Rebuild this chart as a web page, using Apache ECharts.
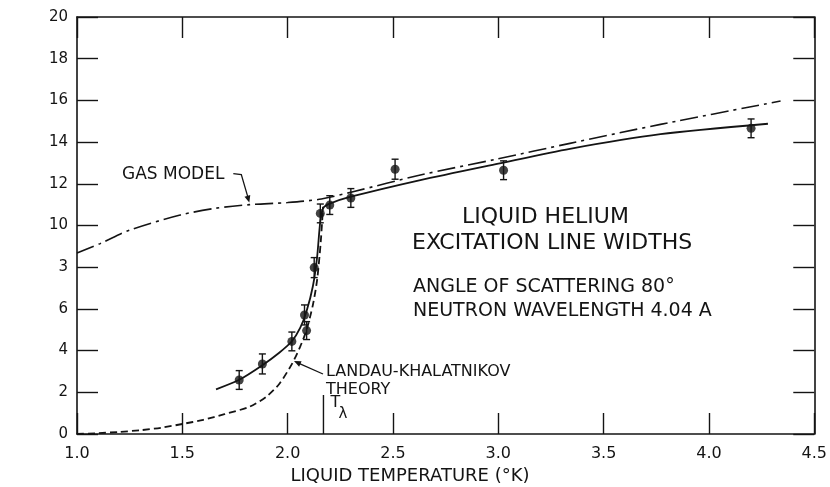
<!DOCTYPE html>
<html><head><meta charset="utf-8">
<script src="https://cdn.jsdelivr.net/npm/echarts@6/dist/echarts.min.js"></script>
<style>html,body{margin:0;padding:0;background:#fff}#c{width:830px;height:487px}</style>
</head><body><div id="c"></div>
<script>
// ---- data ----
const xTickLabels = ['1.0','1.5','2.0','2.5','3.0','3.5','4.0','4.5'];
const yTickLabels = ['0','2','4','6','3','10','12','14','16','18','20'];

// measured points (temperature, line width, error half-height)
const ptTemp  = [1.77, 1.88, 2.02, 2.08, 2.09, 2.126, 2.155, 2.20, 2.30, 2.51, 3.025, 4.20];
const ptWidth = [2.59, 3.36, 4.44, 5.71, 4.96, 7.98, 10.58, 10.98, 11.32, 12.70, 12.65, 14.66];
const ptErr   = [0.45, 0.48, 0.45, 0.48, 0.43, 0.48, 0.45, 0.45, 0.45, 0.48, 0.45, 0.45];

// gas model (dash-dot)
const gasTemp  = [1.0, 1.11, 1.25, 1.49, 1.66, 1.82, 2.0, 2.16, 2.31, 2.63, 3.0, 3.34, 3.77, 4.34];
const gasWidth = [8.68, 9.13, 9.78, 10.5, 10.83, 11.0, 11.1, 11.27, 11.62, 12.42, 13.2, 13.94, 14.85, 15.97];

// fitted curve through data (solid)
const fitTemp  = [1.66, 1.77, 1.88, 1.96, 2.02, 2.06, 2.09, 2.12, 2.14, 2.155, 2.17, 2.2, 2.3, 2.63, 3.0, 3.34, 3.77, 4.28];
const fitWidth = [2.14, 2.6, 3.3, 3.9, 4.45, 5.1, 5.9, 7.1, 8.5, 10.2, 10.85, 11.05, 11.38, 12.18, 12.97, 13.68, 14.38, 14.88];

// Landau-Khalatnikov theory (dashed)
const ltTemp  = [1.0, 1.1, 1.2, 1.3, 1.4, 1.5, 1.6, 1.7, 1.82, 1.9, 1.96, 2.02, 2.06, 2.09, 2.12, 2.14, 2.157, 2.168];
const ltWidth = [0.0, 0.04, 0.1, 0.18, 0.3, 0.48, 0.68, 0.95, 1.31, 1.8, 2.4, 3.35, 4.2, 5.0, 6.2, 7.4, 9.2, 10.9];

// lambda point marker
const lambdaTemp = 2.17;
const lambdaTick = [0, 1.87];

// ---- chart ----
const INK = '#141414';
const FONT = 'DejaVu Sans';
const zip = (a, b) => a.map((v, i) => [v, b[i]]);
const chart = echarts.init(document.getElementById('c'), null, {renderer: 'canvas'});

const axisCommon = () => ({
  axisLine: {show: true, onZero: false, lineStyle: {color: INK, width: 1.6}},
  axisTick: {show: true, inside: true, length: 21, lineStyle: {color: INK, width: 1.4}},
  splitLine: {show: false}
});

const option = {
  animation: false,
  backgroundColor: '#fff',
  grid: {left: 77, right: 15, top: 17, bottom: 53},
  xAxis: [
    Object.assign({type: 'value', min: 1, max: 4.5, interval: 0.5, position: 'bottom',
      axisLabel: {color: INK, fontFamily: FONT, fontSize: 16, margin: 12,
        formatter: v => xTickLabels[Math.round((v - 1) / 0.5)]}}, axisCommon()),
    Object.assign({type: 'value', min: 1, max: 4.5, interval: 0.5, position: 'top',
      axisLabel: {show: false}}, axisCommon())
  ],
  yAxis: [
    Object.assign({type: 'value', min: 0, max: 20, interval: 2, position: 'left',
      axisLabel: {color: INK, fontFamily: FONT, fontSize: 15, margin: 9,
        formatter: v => yTickLabels[Math.round(v / 2)]}}, axisCommon()),
    Object.assign({type: 'value', min: 0, max: 20, interval: 2, position: 'right',
      axisLabel: {show: false}}, axisCommon())
  ],
  series: [
    {type: 'line', name: 'gas', data: zip(gasTemp, gasWidth), smooth: 0.3, symbol: 'none',
      lineStyle: {color: INK, width: 1.6, type: [18, 5, 3, 5]}},
    {type: 'line', name: 'fit', data: zip(fitTemp, fitWidth), smooth: 0.25, symbol: 'none',
      lineStyle: {color: INK, width: 1.8}},
    {type: 'line', name: 'lt', data: zip(ltTemp, ltWidth), smooth: 0.25, symbol: 'none',
      lineStyle: {color: INK, width: 1.8, type: [7, 4]}},
    {type: 'line', name: 'lambda', data: lambdaTick.map(v => [lambdaTemp, v]), symbol: 'none',
      lineStyle: {color: INK, width: 1.4}},
    {type: 'custom', name: 'err', z: 5,
      data: ptTemp.map((t, i) => [t, ptWidth[i], ptErr[i]]),
      renderItem: function (params, api) {
        const x = api.value(0), y = api.value(1), e = api.value(2);
        const lo = api.coord([x, y - e]), hi = api.coord([x, y + e]);
        const w = 3.5;
        const st = {stroke: INK, lineWidth: 1.4, fill: null};
        return {type: 'group', children: [
          {type: 'line', shape: {x1: lo[0], y1: lo[1], x2: hi[0], y2: hi[1]}, style: st},
          {type: 'line', shape: {x1: lo[0] - w, y1: lo[1], x2: lo[0] + w, y2: lo[1]}, style: st},
          {type: 'line', shape: {x1: hi[0] - w, y1: hi[1], x2: hi[0] + w, y2: hi[1]}, style: st}
        ]};
      }},
    {type: 'scatter', name: 'pts', z: 6, data: zip(ptTemp, ptWidth), symbol: 'circle', symbolSize: 9,
      itemStyle: {color: INK}}
  ]
};
chart.setOption(option);

// annotations (anchored at points on the curves)
function px(t, w) { return chart.convertToPixel({gridIndex: 0}, [t, w]); }
function arrowHead(tip, from, len, half) {
  const dx = tip[0] - from[0], dy = tip[1] - from[1];
  const d = Math.hypot(dx, dy), ux = dx / d, uy = dy / d;
  const bx = tip[0] - ux * len, by = tip[1] - uy * len;
  return {type: 'polygon', shape: {points: [tip, [bx - uy * half, by + ux * half], [bx + uy * half, by - ux * half]]},
    style: {fill: INK}};
}
const gasTip = px(1.818, 11.1);
const gasBend = [gasTip[0] - 8, gasTip[1] - 28];
const gasStart = [gasBend[0] - 12, gasBend[1]];
const ltTip = px(2.03, 3.5);
const ltFrom = [ltTip[0] + 29, ltTip[1] + 13];
const lam = px(lambdaTemp, 0);

const txt = (x, y, s, size, align, extra) => Object.assign({type: 'text', x: x, y: y,
  style: {text: s, fill: INK, font: size + 'px "' + FONT + '"', textAlign: align || 'left', textVerticalAlign: 'middle'}}, extra || {});

chart.setOption({graphic: [
  txt(122, gasStart[1], 'GAS MODEL', 17),
  {type: 'polyline', shape: {points: [[gasStart[0] + 4, gasStart[1] - 1], gasBend, [gasTip[0] - 1, gasTip[1] - 4]]},
    style: {stroke: INK, lineWidth: 1.3, fill: null}},
  arrowHead(gasTip, gasBend, 7, 3),
  {type: 'line', shape: {x1: ltFrom[0], y1: ltFrom[1], x2: ltTip[0] + 5, y2: ltTip[1] + 2.3},
    style: {stroke: INK, lineWidth: 1.3}},
  arrowHead(ltTip, ltFrom, 7, 3),
  txt(ltFrom[0] + 3, 372, 'LANDAU-KHALATNIKOV', 16),
  txt(ltFrom[0] + 3, 390, 'THEORY', 16),
  txt(lam[0] + 7, 403, 'T', 16),
  txt(lam[0] + 15, 414, 'λ', 15),
  txt(462, 217, 'LIQUID HELIUM', 22),
  txt(412, 243, 'EXCITATION LINE WIDTHS', 22),
  txt(413, 287, 'ANGLE OF SCATTERING 80°', 19),
  txt(413, 311, 'NEUTRON WAVELENGTH 4.04 A', 19),
  txt(410, 476, 'LIQUID TEMPERATURE (°K)', 18, 'center'),
  txt(22, 277, 'LINE WIDTH (°K)', 18, 'center', {rotation: Math.PI / 2, originX: 22, originY: 277})
]});
</script>
</body></html>
